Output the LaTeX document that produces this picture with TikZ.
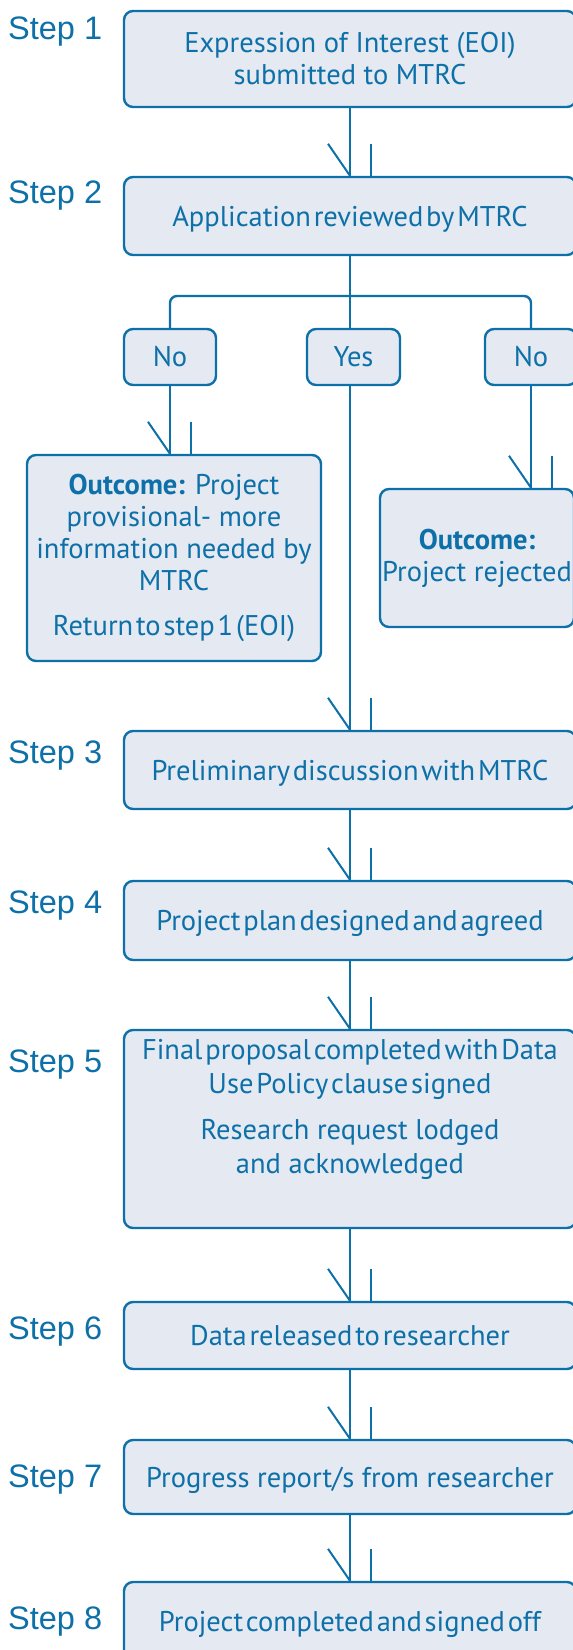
\documentclass[tikz,border=0pt]{standalone}
\usepackage{fontspec}
\setmainfont{PT Sans}
\newfontfamily\stepfont{Liberation Sans}
\usepackage{tikz}

\definecolor{mtblue}{RGB}{14,112,168}
\definecolor{boxfill}{RGB}{228,233,242}

% broken arrow head: slanted stroke plus a short vertical stroke
\newcommand\tickhead[1]{%
  \draw[tick] (#1) ++(-22,-32) -- (#1);
  \draw[tick] (#1) ++(21,0) -- ++(0,-32);}
\newcommand\tightwords[1]{{\spaceskip=0.1em\relax #1}}

\begin{document}
\begin{tikzpicture}[x=1pt,y=-1pt,
    stepbox/.style={rectangle,draw=mtblue,fill=boxfill,line width=2.4pt,
      rounded corners=9pt,inner sep=0pt,text=mtblue,align=center,
      font=\fontsize{28.5}{32}\selectfont},
    onerow/.style={text depth=0pt},
    steplabel/.style={anchor=west,inner sep=0pt,text=mtblue,
      font=\stepfont\fontsize{32.5}{32}\selectfont},
    flow/.style={draw=mtblue,line width=2.4pt},
    tick/.style={draw=mtblue,line width=2pt}]
  \clip (0,0) rectangle (573,1650);

  \foreach \i/\y in {1/32,2/196,3/756,4/906,5/1065,6/1332,7/1480,8/1622}
    \node[steplabel] (s\i) at (8,\y) {Step \i};

  \draw (350,59) node[stepbox,minimum width=452pt,minimum height=96pt] (b1)
    {Expression of Interest (EOI)\\submitted to MTRC};
  \draw (350,216) node[stepbox,onerow,minimum width=452pt,minimum height=78pt] (b2)
    {\tightwords{Application reviewed by MTRC}};
  \draw (170,357) node[stepbox,minimum width=92pt,minimum height=56pt] (noL) {No};
  \draw (353.5,357) node[stepbox,minimum width=93pt,minimum height=56pt] (yes) {Yes};
  \draw (531,357) node[stepbox,minimum width=92pt,minimum height=56pt] (noR) {No};
  \draw (174,558) node[stepbox,minimum width=294pt,minimum height=206pt] (outL)
    {\textbf{Outcome:} Project\\provisional- more\\information needed by\\MTRC\\[13pt]
     \tightwords{Return to step 1 (EOI)}};
  \draw (477,558) node[stepbox,minimum width=194pt,minimum height=138pt] (outR)
    {\textbf{Outcome:}\\Project rejected};
  \draw (350,770) node[stepbox,onerow,minimum width=452pt,minimum height=78pt] (b3)
    {\tightwords{Preliminary discussion with MTRC}};
  \draw (350,920.5) node[stepbox,onerow,minimum width=452pt,minimum height=79pt] (b4)
    {\tightwords{Project plan designed and agreed}};
  \draw (350,1129) node[stepbox,minimum width=452pt,minimum height=198pt] (b5) {};
  \node[text=mtblue,align=center,anchor=north,inner sep=0pt,
    font=\fontsize{28.5}{34}\selectfont] (b5txt) at (350,1039)
    {\tightwords{Final proposal completed with Data}\\
     \tightwords{Use Policy clause signed}\\[12pt]
     Research request lodged\\and acknowledged};
  \draw (350,1335.5) node[stepbox,onerow,minimum width=452pt,minimum height=67pt] (b6)
    {\tightwords{Data released to researcher}};
  \draw (350,1477) node[stepbox,onerow,minimum width=452pt,minimum height=74pt] (b7)
    {Progress report/s from researcher};
  \draw (350,1621) node[stepbox,onerow,minimum width=452pt,minimum height=78pt] (b8)
    {\tightwords{Project completed and signed off}};

  % connectors
  \coordinate (br) at (350,296);
  \draw[flow] (b1.south) -- (b2.north);
  \draw[flow] (b2.south) -- (b2.south |- yes.north);
  \draw[flow,rounded corners=7pt] (noL.north) -- (noL.north |- br)
    -- (noR.north |- br) -- (noR.north);
  \draw[flow] (noL.south) -- (noL.south |- outL.north);
  \draw[flow] (noR.south) -- (noR.south |- outR.north);
  \draw[flow] (yes.south -| b3.north) -- (b3.north);
  \draw[flow] (b3.south) -- (b4.north);
  \draw[flow] (b4.south) -- (b5.north);
  \draw[flow] (b5.south) -- (b6.north);
  \draw[flow] (b6.south) -- (b7.north);
  \draw[flow] (b7.south) -- (b8.north);

  \tickhead{b2.north}
  \tickhead{noL.south |- outL.north}
  \tickhead{noR.south |- outR.north}
  \tickhead{b3.north}
  \tickhead{b4.north}
  \tickhead{b5.north}
  \tickhead{b6.north}
  \tickhead{b7.north}
  \tickhead{b8.north}
\end{tikzpicture}
\end{document}
